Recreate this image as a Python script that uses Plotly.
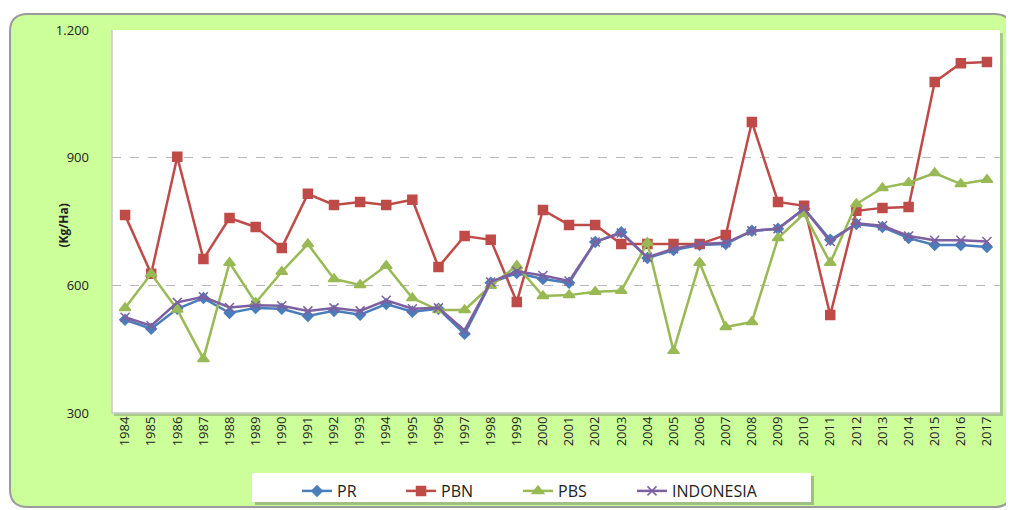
import plotly.graph_objects as go

years = [str(y) for y in range(1984, 2018)]

pr = [519, 498, 545, 570, 535, 547, 545, 528, 540, 531, 556, 538, 545, 486, 606, 629, 615, 606,
      702, 725, 664, 683, 695, 697, 728, 733, 780, 707, 744, 737, 711, 695, 695, 690]
pbn = [765, 627, 902, 662, 758, 737, 688, 815, 789, 796, 789, 801, 643, 716, 707, 561, 777, 742,
       742, 697, 697, 697, 697, 718, 984, 796, 787, 530, 775, 782, 784, 1078, 1122, 1125]
pbs = [547, 627, 543, 427, 653, 559, 632, 697, 615, 601, 646, 570, 542, 542, 599, 646, 575, 577,
       585, 587, 700, 446, 653, 502, 514, 711, 768, 653, 791, 829, 841, 864, 838, 848]
indonesia = [525, 505, 560, 573, 548, 553, 552, 540, 547, 540, 565, 545, 547, 494, 608, 633, 623, 610,
             702, 723, 666, 686, 697, 700, 728, 733, 780, 703, 746, 740, 716, 706, 706, 703]

y_ticks = [300, 600, 900, 1200]
y_tick_labels = ["300", "600", "900", "1.200"]

W, H = 888, 383  # plot area size in px


def px(x, y):
    # pixel position on the page -> paper coords (plot area starts at 112, 30)
    return (x - 112) / W, (413 - y) / H


fig = go.Figure()

# green rounded panel behind everything
(x0, y1), (x1, y0) = px(10, 14), px(1012, 507)
r = 0.02
ry = r * W / H
panel = (f"M {x0+r},{y1} L {x1-r},{y1} Q {x1},{y1} {x1},{y1-ry} "
         f"L {x1},{y0+ry} Q {x1},{y0} {x1-r},{y0} L {x0+r},{y0} Q {x0},{y0} {x0},{y0+ry} "
         f"L {x0},{y1-ry} Q {x0},{y1} {x0+r},{y1} Z")
fig.add_shape(type="path", path=panel, xref="paper", yref="paper",
              fillcolor="#CCFF99", line=dict(color="#9a9a9a", width=2), layer="below")

# plot area: soft shadow, white fill, solid left/bottom edges
sx0, sy0 = px(114, 416)
fig.add_shape(type="rect", x0=sx0, x1=px(1003, 0)[0], y0=sy0, y1=px(0, 33)[1],
              xref="paper", yref="paper", fillcolor="#a9c98a", line_width=0, layer="below")
fig.add_shape(type="rect", x0=0, x1=1, y0=0, y1=1, xref="paper", yref="paper",
              fillcolor="white", line_width=0, layer="below")
fig.add_shape(type="path", path="M 0,1 L 0,0 L 1,0", xref="paper", yref="paper",
              line=dict(color="#c8c8c8", width=1.5), layer="below")

# legend box
(lx0, ly1), (lx1, ly0) = px(252, 473), px(811, 502)
(shx0, shy1), (shx1, shy0) = px(255, 476), px(814, 505)
fig.add_shape(type="rect", x0=shx0, x1=shx1, y0=shy0, y1=shy1, xref="paper", yref="paper",
              fillcolor="#9fbf80", line_width=0, layer="below")
fig.add_shape(type="rect", x0=lx0, x1=lx1, y0=ly0, y1=ly1, xref="paper", yref="paper",
              fillcolor="white", line_width=0, layer="below")

series = [
    ("PR", pr, "#4A7EBB", "diamond", 8),
    ("PBN", pbn, "#BE4B48", "square", 9),
    ("PBS", pbs, "#98B954", "triangle-up", 10),
    ("INDONESIA", indonesia, "#7D60A0", "x-thin", 9),
]
legend_left = [297, 401, 518, 632]  # px where each legend entry starts

legends = {}
for i, ((name, vals, color, sym, size), lx) in enumerate(zip(series, legend_left)):
    key = "legend" if i == 0 else f"legend{i+1}"
    fig.add_trace(go.Scatter(
        x=years, y=vals, name=name, mode="lines+markers",
        line=dict(color=color, width=2.5),
        marker=dict(symbol=sym, size=size, color=color,
                    line=dict(color=color, width=1.5)),
        legend=key,
    ))
    gx, gy = px(lx, 474)
    legends[key] = dict(orientation="h", x=gx, xanchor="left", y=gy, yanchor="top",
                        bgcolor="rgba(0,0,0,0)", font=dict(size=16), itemwidth=30)

# page body adds an 8px margin, so the figure is 8px smaller
fig.update_layout(
    width=1006, height=502,
    margin=dict(l=104, r=14, t=22, b=97, autoexpand=False),
    paper_bgcolor="white",
    plot_bgcolor="rgba(0,0,0,0)",
    font=dict(family="Open Sans, sans-serif", color="#222222"),
    showlegend=True,
    xaxis=dict(type="category", tickangle=-90, tickfont=dict(size=13),
               showgrid=False, showline=False, ticks="", range=[-0.5, 33.5]),
    yaxis=dict(range=[300, 1200], tickvals=y_ticks, ticktext=y_tick_labels,
               tickfont=dict(size=13), showgrid=True, gridcolor="#b8b8b8",
               griddash="dash", gridwidth=1, zeroline=False, ticklabelstandoff=22),
    annotations=[dict(text="<b>(Kg/Ha)</b>", textangle=-90, showarrow=False,
                      xref="paper", yref="paper", x=px(52, 0)[0], y=px(0, 226)[1],
                      font=dict(size=12))],
    **legends,
)

fig.write_html("out.html")
